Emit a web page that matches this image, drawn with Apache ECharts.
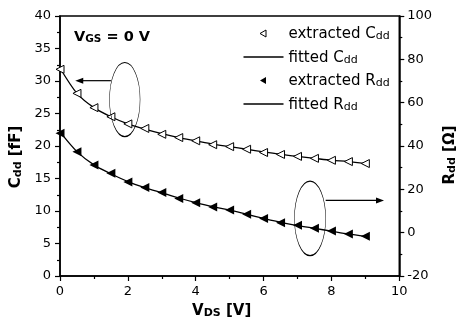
<!DOCTYPE html>
<html><head><meta charset="utf-8">
<script src="https://cdn.jsdelivr.net/npm/echarts@6/dist/echarts.min.js"></script>
<style>html,body{margin:0;padding:0;background:#fff}#c{width:466px;height:327px}</style>
</head><body><div id="c"></div>
<script>
const vds = [0,0.5,1,1.5,2,2.5,3,3.5,4,4.5,5,5.5,6,6.5,7,7.5,8,8.5,9];
const cddExtracted = [31.8,28.1,25.9,24.5,23.4,22.7,21.8,21.3,20.8,20.2,19.9,19.5,19.0,18.7,18.4,18.1,17.8,17.6,17.3];
const rddExtracted = [45.9,37.4,31.2,27.4,23.4,20.8,18.5,15.8,13.8,11.8,10.5,8.5,6.5,4.6,3.4,2.0,0.8,-0.6,-1.7];
const cddFitted = [32.0,28.1,25.9,24.5,23.4,22.6,21.9,21.3,20.8,20.3,19.9,19.5,19.1,18.7,18.4,18.1,17.8,17.6,17.3];
const rddFitted = [46.5,37.4,31.3,27.2,23.6,20.8,18.4,16.0,13.9,12.0,10.4,8.5,6.6,4.8,3.3,2.0,0.7,-0.6,-1.7];
const xTicks = {min:0, max:10, interval:2};
const yLeftTicks = {min:0, max:40, interval:5};
const yRightTicks = {min:-20, max:100, interval:20};
// annotations (data coordinates)
const ellipseC = {x:1.91, y:27.15, rx:0.45, ry:5.7};
const arrowC = {x0:1.5, x1:0.45, y:30.05};
const ellipseR = {x:7.37, y:6.6, rx:0.46, ry:17.2};
const arrowR = {x0:7.83, x1:9.55, y:14.9};

const FONT = 'DejaVu Sans';
const pair = (xs, ys) => xs.map((x,i)=>[x, ys[i]]);
const subRich = (big, small, bold) => ({
  b:{fontFamily:FONT, fontSize:big, fontWeight:bold?'bold':'normal', color:'#000', verticalAlign:'bottom', lineHeight:big+2},
  s:{fontFamily:FONT, fontSize:small, fontWeight:bold?'bold':'normal', color:'#000', verticalAlign:'bottom', lineHeight:big+2}
});
// legend icons (40x14 box)
const ICON_LINE = 'path://M0,0M40,14M0,6.3H40V7.7H0Z';
const ICON_TRI = 'path://M0,0M40,14M16.5,7L22.5,3.5L22.5,10.5Z';
const legendData = [
  {name:'extracted Cdd', icon:ICON_TRI, itemStyle:{color:'#fff', borderColor:'#000', borderWidth:1}},
  {name:'fitted Cdd', icon:ICON_LINE, itemStyle:{color:'#000', borderWidth:0}},
  {name:'extracted Rdd', icon:ICON_TRI, itemStyle:{color:'#000', borderWidth:0}},
  {name:'fitted Rdd', icon:ICON_LINE, itemStyle:{color:'#000', borderWidth:0}}
];
const legendFmt = {
  'extracted Cdd':'{b|extracted C}{s|dd}',
  'fitted Cdd':'{b|fitted C}{s|dd}',
  'extracted Rdd':'{b|extracted R}{s|dd}',
  'fitted Rdd':'{b|fitted R}{s|dd}'
};
const axisCommon = {
  axisLine:{show:true, lineStyle:{color:'#000', width:1.5}},
  axisTick:{show:true, inside:false, length:5, lineStyle:{color:'#000', width:1.2}},
  minorTick:{show:true, splitNumber:2, length:3, lineStyle:{color:'#000', width:1.2}},
  splitLine:{show:false}
};
const chart = echarts.init(document.getElementById('c'), null, {renderer:'canvas'});
const option = {
  animation:false,
  backgroundColor:'#fff',
  title:{
    text:'{b|V}{s|GS}{b| = 0 V}', left:69, top:23,
    textStyle:{rich:subRich(14.5,10.5,true)}
  },
  grid:{left:60, right:53, top:16, bottom:51, show:true, borderColor:'#000', borderWidth:1.5, backgroundColor:'transparent'},
  legend:{
    data:legendData, orient:'vertical', left:243, top:26, padding:0, itemWidth:40, itemHeight:14, itemGap:8,
    formatter:n=>legendFmt[n],
    textStyle:{rich:subRich(15,11,false)},
    selectedMode:false
  },
  xAxis:Object.assign({type:'value', name:'{b|V}{s|DS}{b| [V]}', nameLocation:'middle', nameGap:26,
    nameTextStyle:{rich:subRich(15,11,true), padding:[0,16,0,0]}}, xTicks, axisCommon,
    {axisLabel:{fontFamily:FONT, fontSize:13, color:'#000', margin:9}}),
  yAxis:[
    Object.assign({type:'value', position:'left', name:'{b|C}{s|dd}{b| [fF]}', nameLocation:'middle', nameGap:28, nameRotate:90,
      nameTextStyle:{rich:subRich(15,11,true), padding:[0,22,0,0]}}, yLeftTicks, axisCommon,
      {axisLabel:{fontFamily:FONT, fontSize:13, color:'#000', margin:9}}),
    Object.assign({type:'value', position:'right', name:'{b|R}{s|dd}{b| [Ω]}', nameLocation:'middle', nameGap:25, nameRotate:90,
      nameTextStyle:{rich:subRich(15,11,true), padding:[0,18,0,0]}}, yRightTicks, axisCommon,
      {axisLabel:{fontFamily:FONT, fontSize:13, color:'#000', margin:8}})
  ],
  series:[
    {name:'extracted Cdd', type:'line', yAxisIndex:0, data:pair(vds,cddExtracted), symbol:'triangle', symbolRotate:90, symbolSize:8,
      lineStyle:{width:0, opacity:0}, itemStyle:{color:'#fff', borderColor:'#000', borderWidth:1}, z:3},
    {name:'fitted Cdd', type:'line', yAxisIndex:0, data:pair(vds,cddFitted), smooth:0.3, symbol:'none',
      lineStyle:{color:'#000', width:1.3}, itemStyle:{color:'#000'}, z:2},
    {name:'extracted Rdd', type:'line', yAxisIndex:1, data:pair(vds,rddExtracted), symbol:'triangle', symbolRotate:90, symbolSize:9,
      lineStyle:{width:0, opacity:0}, itemStyle:{color:'#000', borderColor:'#000', borderWidth:0}, z:3},
    {name:'fitted Rdd', type:'line', yAxisIndex:1, data:pair(vds,rddFitted), smooth:0.3, symbol:'none',
      lineStyle:{color:'#000', width:1.3}, itemStyle:{color:'#000'}, z:2}
  ]
};
chart.setOption(option);

function px(x, y, yi){ return chart.convertToPixel({xAxisIndex:0, yAxisIndex:yi}, [x, y]); }
function ellipseGraphic(e, yi){
  const c = px(e.x, e.y, yi);
  const r = px(e.x + e.rx, e.y + e.ry, yi);
  const rx = Math.abs(r[0]-c[0]), ry = Math.abs(c[1]-r[1]);
  return {type:'circle', x:c[0], y:c[1], scaleX:rx/ry, scaleY:1, shape:{cx:0, cy:0, r:ry},
    style:{fill:'none', stroke:'#000', lineWidth:1.2, strokeNoScale:true}, z:10};
}
function arrowGraphic(a, yi){
  const p0 = px(a.x0, a.y, yi), p1 = px(a.x1, a.y, yi);
  const dir = Math.sign(p1[0]-p0[0]);
  const hl = 8, hw = 3;
  return [
    {type:'line', shape:{x1:p0[0], y1:p0[1], x2:p1[0]-dir*hl*0.8, y2:p1[1]}, style:{stroke:'#000', lineWidth:1.2}, z:10},
    {type:'polygon', shape:{points:[[p1[0],p1[1]],[p1[0]-dir*hl,p1[1]-hw],[p1[0]-dir*hl,p1[1]+hw]]}, style:{fill:'#000'}, z:10}
  ];
}
chart.setOption({graphic:[ellipseGraphic(ellipseC,0), ellipseGraphic(ellipseR,1)].concat(arrowGraphic(arrowC,0), arrowGraphic(arrowR,1))});
</script></body></html>
